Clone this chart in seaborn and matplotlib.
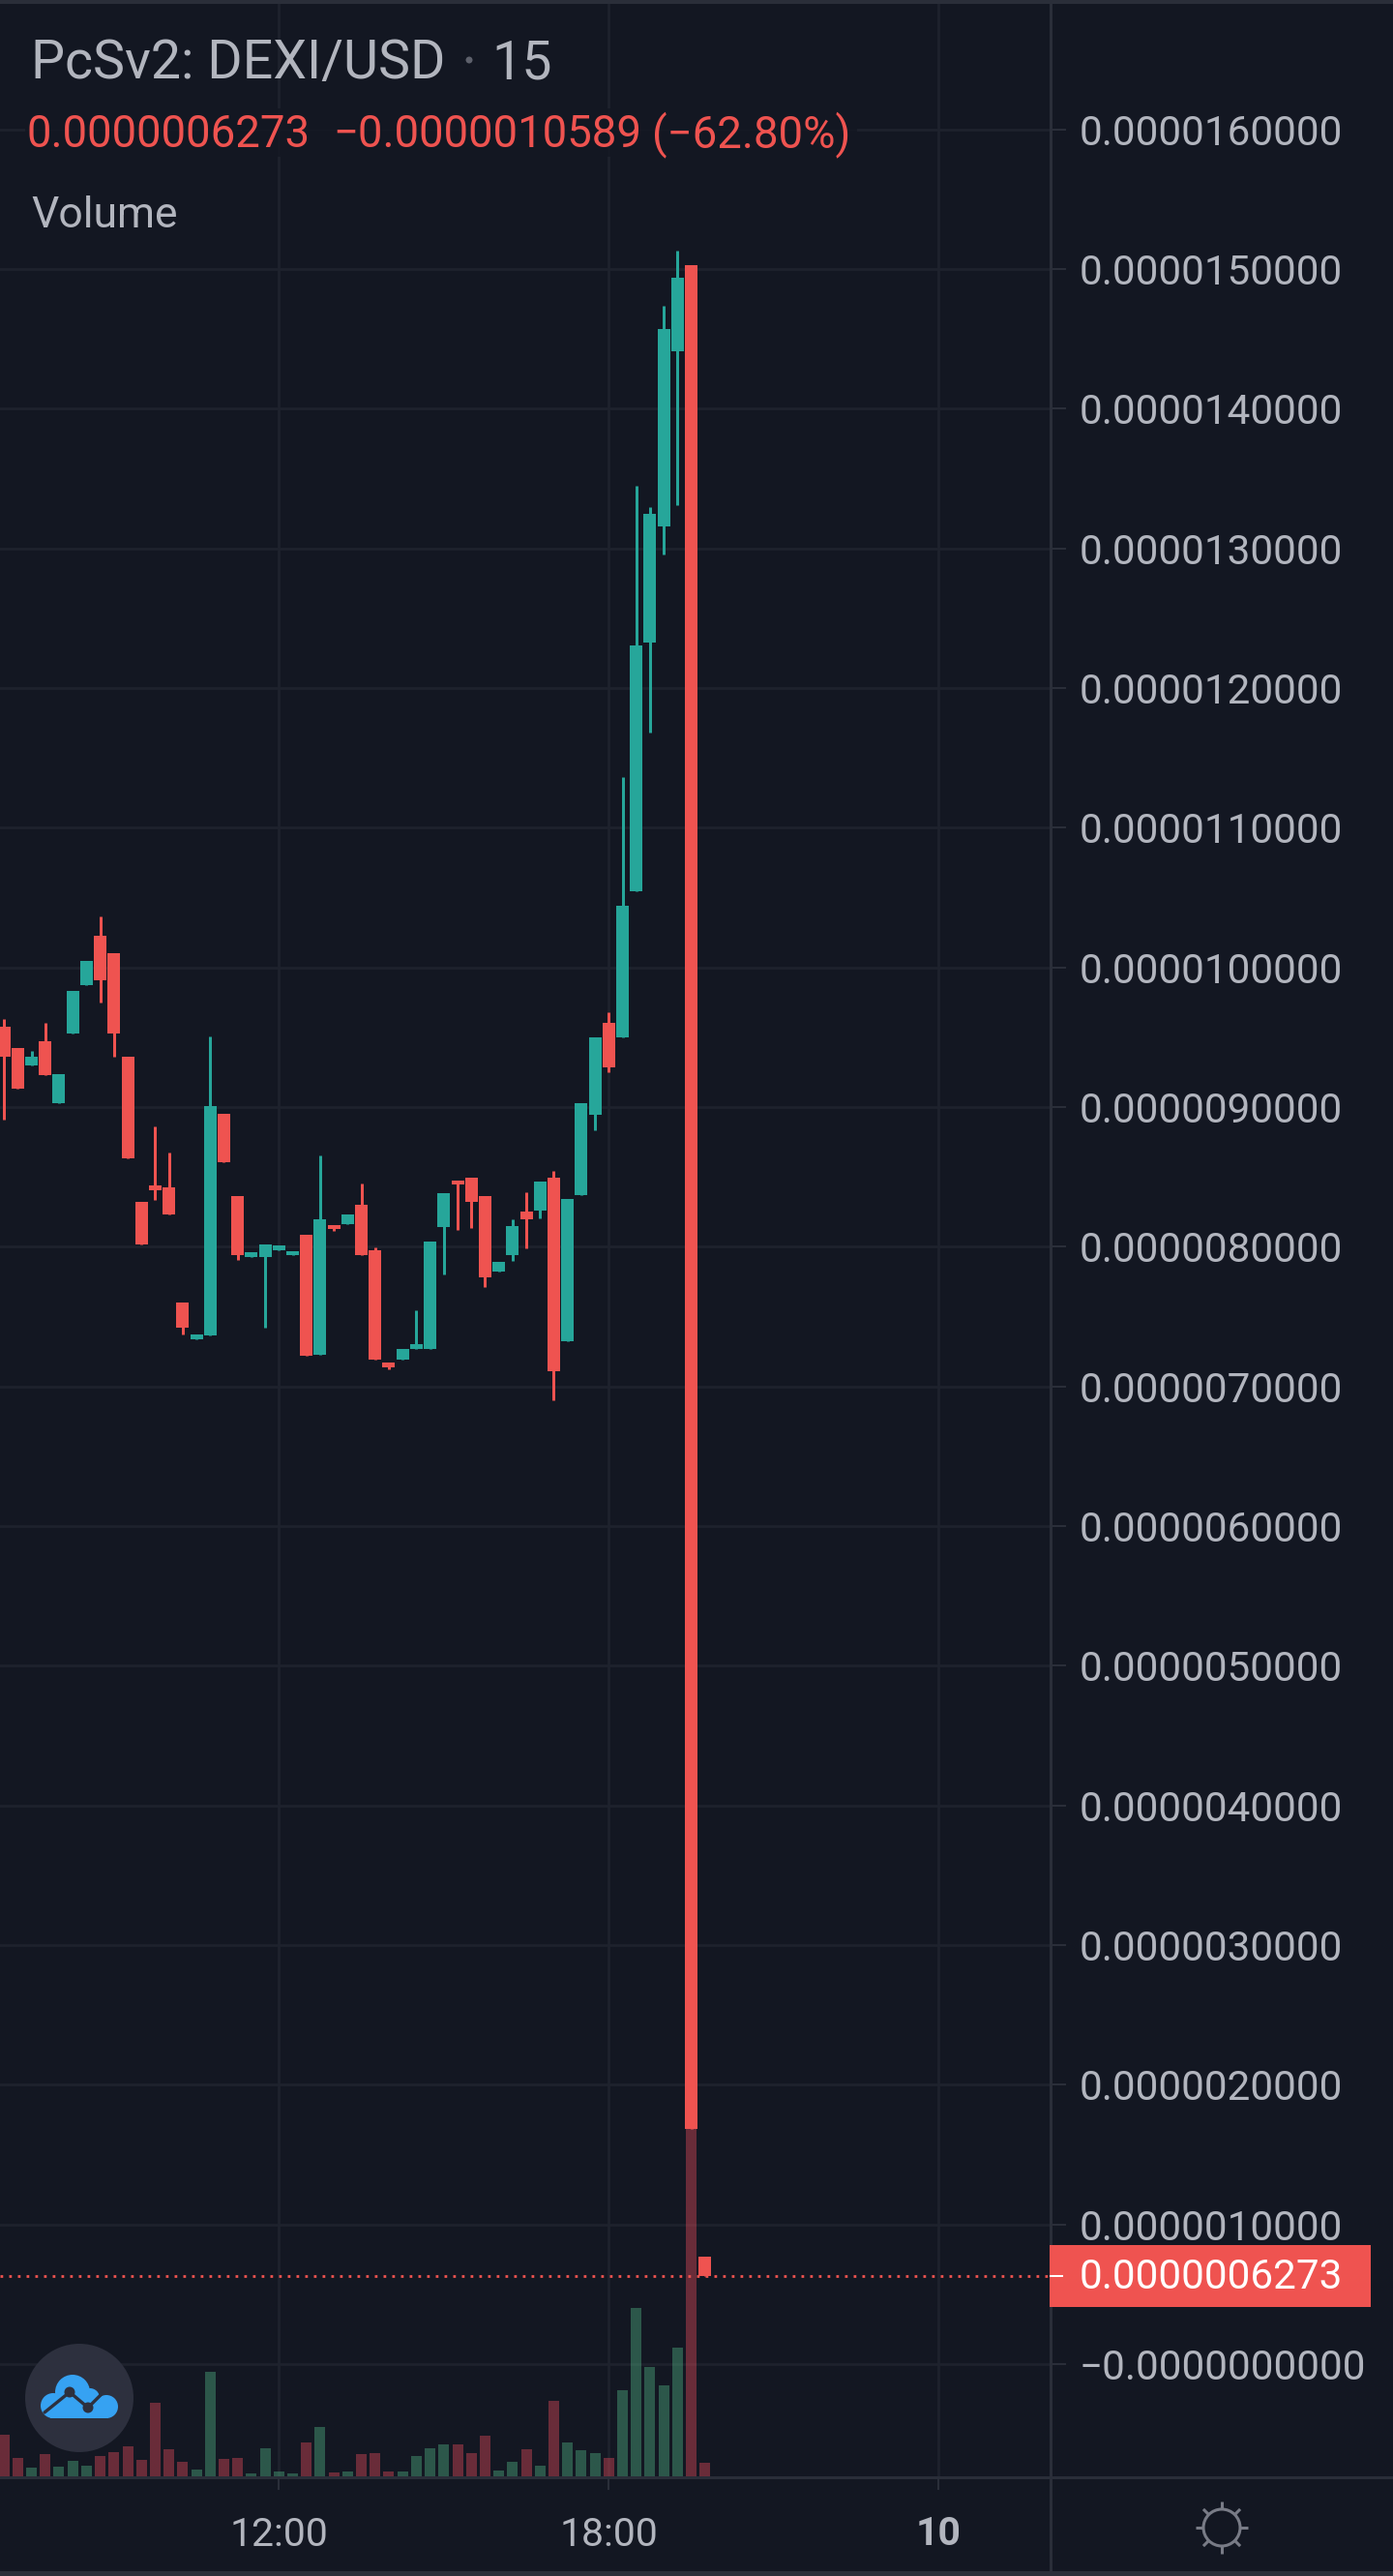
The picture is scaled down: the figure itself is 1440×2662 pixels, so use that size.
import numpy as np
import pandas as pd
import seaborn as sns
import matplotlib.pyplot as plt
from matplotlib.patches import Circle, Rectangle

### data, prices in 1e-6 USD, one candle every 15 min, 0 = 12:00 ###
candle = list(range(-20, 32))
open_ = [9.576, 9.425, 9.299, 9.472, 9.029, 9.524, 9.871, 10.228, 10.104, 9.361, 8.320, 8.439, 8.424,
         7.599, 7.339, 7.364, 8.952, 8.362, 7.929, 7.926, 7.976, 7.941, 8.085, 7.225, 8.154, 8.162,
         8.300, 7.973, 7.169, 7.192, 7.268, 7.268, 8.141, 8.471, 8.497, 8.363, 7.822, 7.938, 8.252,
         8.259, 8.494, 7.323, 8.370, 8.947, 9.601, 9.498, 10.548, 12.327, 13.156, 14.411, 15.030, 0.769]
high = [9.628, 9.425, 9.405, 9.604, 9.237, 9.834, 10.050, 10.364, 10.104, 9.361, 8.320, 8.865, 8.674,
        7.599, 7.369, 9.504, 8.952, 8.362, 7.958, 8.015, 8.008, 7.971, 8.085, 8.655, 8.154, 8.231,
        8.454, 7.993, 7.169, 7.268, 7.545, 8.037, 8.383, 8.471, 8.497, 8.363, 7.891, 8.196, 8.390,
        8.467, 8.543, 8.342, 9.028, 9.498, 9.677, 11.365, 13.449, 13.297, 14.734, 15.129, 15.030, 0.769]
low = [8.910, 9.133, 9.299, 9.229, 9.029, 9.524, 9.871, 9.752, 9.361, 8.630, 8.015, 8.335, 8.231,
       7.374, 7.339, 7.364, 8.605, 7.904, 7.929, 7.423, 7.976, 7.941, 7.218, 7.225, 8.112, 8.162,
       7.939, 7.190, 7.122, 7.192, 7.268, 7.268, 7.799, 8.120, 8.132, 7.711, 7.822, 7.901, 7.988,
       8.203, 6.903, 7.323, 8.370, 8.836, 9.252, 9.498, 10.548, 11.681, 12.958, 13.312, 1.6862, 0.6273]
close = [9.363, 9.133, 9.361, 9.229, 9.237, 9.834, 10.050, 9.906, 9.529, 8.630, 8.015, 8.407, 8.231,
         7.418, 7.369, 9.009, 8.605, 7.939, 7.958, 8.015, 8.008, 7.971, 7.218, 8.196, 8.124, 8.231,
         7.939, 7.190, 7.139, 7.268, 7.303, 8.037, 8.383, 8.446, 8.321, 7.781, 7.891, 8.148, 8.196,
         8.467, 7.109, 8.342, 9.028, 9.498, 9.286, 10.441, 12.304, 13.247, 14.574, 14.939, 1.6862, 0.6273]
volume = [43.3, 19.3, 9, 23, 10, 16.3, 11, 21.3, 25.3, 31, 17.3, 76.3, 28.3, 15, 7, 108, 18, 19.3, 3, 29,
          5, 3, 35.3, 51.3, 4.3, 5.3, 23.3, 24.3, 5.3, 5.3, 21.3, 28.7, 33.3, 33.3, 23.7, 41.7, 6.3, 15.3,
          27.7, 11.3, 77.7, 35.3, 27.3, 23.7, 18.7, 89.3, 173.7, 113.3, 94.3, 133.3, 365, 13.7]

price_ticks = list(range(0, 17))
price_labels = ['\u22120.0000000000'] + ['0.%010d' % (p * 10000) for p in price_ticks[1:]]
time_ticks = [0, 24, 48]
time_labels = ['12:00', '18:00', '10']
last_price = 0.6273

BG = '#131722'
GRID = '#1E222D'
LINE = '#2A2E39'
TEXT = '#B2B5BE'
UP = '#26A69A'
DOWN = '#EF5350'

sns.set_theme(style='dark')
plt.rcParams['font.family'] = ['Roboto', 'DejaVu Sans']

df = pd.DataFrame({'candle': candle, 'open': open_, 'high': high, 'low': low,
                   'close': close, 'volume': volume})
df['side'] = np.where(df['close'] >= df['open'], 'up', 'down')
candle_color = df['side'].map({'up': UP, 'down': DOWN})

W, H = 1440, 2662
fig = plt.figure(figsize=(W / 100, H / 100), dpi=100, facecolor=BG)
rect = [0, (H - 2559) / H, 1086 / W, 2555 / H]

# grid and axis labels live on the bottom axes
ax = fig.add_axes(rect, facecolor=BG)
ax_vol = ax.twinx()
ax_price = ax.twinx()
ax.set_zorder(1)
ax_vol.set_zorder(2)
ax_price.set_zorder(3)

## volume
sns.barplot(data=df, x='candle', y='volume', hue='side', palette={'up': '#53B987', 'down': '#EB4D5C'},
            native_scale=True, dodge=False, width=0.774, saturation=1, alpha=0.4, linewidth=0,
            errorbar=None, legend=False, ax=ax_vol)
ax_vol.set_ylim(0, 2555)
ax_vol.set_axis_off()

## candles
ax_price.vlines(df['candle'], df['low'], df['high'], colors=candle_color, linewidth=2.16)
ax_price.bar(df['candle'], (df['close'] - df['open']).abs(), bottom=df[['open', 'close']].min(axis=1),
             width=0.915, color=candle_color, linewidth=0)
ax_price.axhline(last_price, color=DOWN, lw=2, ls=(0, (1, 2.24)), zorder=1)
ylim = (-0.8037, 16.899)
ax_price.set_ylim(ylim)
ax_price.set_axis_off()

## axes
ax.set_ylim(ylim)
ax.set_xlim(-20.29, 56.14)
ax.set_yticks(price_ticks)
ax.set_yticklabels(price_labels)
ax.set_xticks(time_ticks)
ax.set_xticklabels(time_labels)
ax.get_xticklabels()[2].set_fontweight('bold')
ax.yaxis.tick_right()
ax.grid(True, color=GRID, lw=2)
ax.set_axisbelow(True)
ax.tick_params(axis='y', right=True, left=False, length=11.5, width=1.44, color=LINE, pad=10,
               labelsize=30.3, labelcolor=TEXT)
ax.tick_params(axis='x', bottom=True, length=10, width=1.44, color=LINE, pad=19.5,
               labelsize=29.5, labelcolor=TEXT)
ax.set_xlabel('')
ax.set_ylabel('')
for s in ax.spines.values():
    s.set_visible(False)

## overlay in pixels: frame, legend, price tag, logo, settings icon
ov = fig.add_axes([0, 0, 1, 1], facecolor='none', zorder=10)
ov.set_xlim(0, W)
ov.set_ylim(H, 0)
ov.set_axis_off()

ov.add_patch(Rectangle((0, 0), W, 4, color=LINE, lw=0))
ov.add_patch(Rectangle((0, 2559), W, 3, color=LINE, lw=0))
ov.add_patch(Rectangle((0, 2657), W, 5, color=LINE, lw=0))
ov.add_patch(Rectangle((1085, 0), 3, 2658, color=LINE, lw=0))

# legend
ov.add_patch(Rectangle((26, 112), 860, 50, color=BG, alpha=0.8, lw=0))
ov.text(32, 81.5, 'PcSv2: DEXI/USD', fontsize=40, color=TEXT, va='baseline')
ov.add_patch(Circle((485, 62), 3.5, color='#5D606B', lw=0))
ov.text(508, 81.5, '15', fontsize=40, color=TEXT, va='baseline')
ov.text(28, 152, '0.0000006273', fontsize=32.8, color=DOWN, va='baseline')
ov.text(344, 152, '\u22120.0000010589', fontsize=32.8, color=DOWN, va='baseline')
ov.text(674, 152, '(\u221262.80%)', fontsize=32.8, color=DOWN, va='baseline')
ov.text(32, 235, 'Volume', fontsize=32, color=TEXT, va='baseline')

# last price tag
ov.add_patch(Rectangle((1085, 2320), 332, 63.5, color=DOWN, lw=0))
ov.plot([1085, 1099], [2352, 2352], color='white', lw=1.44, solid_capstyle='butt')
ov.text(1116, 2365, '0.0000006273', fontsize=30.3, color='white', va='baseline')

# logo
ov.add_patch(Circle((82, 2478), 56, color='#2D303E', lw=0))
for cx, cy, r in [(75, 2472, 18), (110, 2487, 12), (55, 2486, 13), (93, 2478, 10)]:
    ov.add_patch(Circle((cx, cy), r, color='#36A2F2', lw=0))
ov.add_patch(Rectangle((52, 2482), 60, 17, color='#36A2F2', lw=0))
ov.plot([46, 72, 91, 110], [2493, 2472, 2488, 2469], color='#2D303E', lw=2.4)
ov.add_patch(Circle((72, 2472), 5.5, color='#2D303E', lw=0))
ov.add_patch(Circle((91, 2488), 5.5, color='#2D303E', lw=0))

# settings icon
ov.add_patch(Circle((1263, 2612), 19, fill=False, ec='#787B86', lw=2.2))
for a in np.deg2rad(np.arange(0, 360, 45)):
    ov.plot([1263 + 19 * np.cos(a), 1263 + 27 * np.cos(a)],
            [2612 + 19 * np.sin(a), 2612 + 27 * np.sin(a)], color='#787B86', lw=2.2, solid_capstyle='butt')

fig.savefig('out.png', dpi=100, facecolor=BG)
